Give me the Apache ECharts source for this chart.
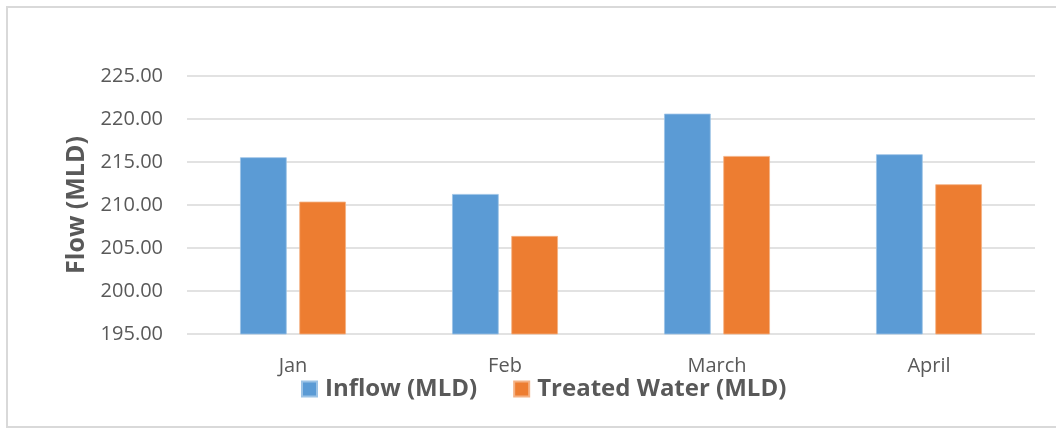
<!DOCTYPE html>
<html>
<head>
<meta charset="utf-8">
<script src="https://cdn.jsdelivr.net/npm/echarts@6/dist/echarts.min.js"></script>
<style>
  html, body { margin: 0; padding: 0; background: #ffffff; }
  #chart { width: 1056px; height: 428px; }
</style>
</head>
<body>
<div id="chart"></div>
<script>
// Monthly plant flows, million litres per day
const months = ['Jan', 'Feb', 'March', 'April'];
const inflow = [215.55, 211.28, 220.62, 215.90];
const treatedWater = [210.39, 206.40, 215.70, 212.41];
const seriesNames = ['Inflow (MLD)', 'Treated Water (MLD)'];
const axisTitle = 'Flow (MLD)';

const chart = echarts.init(document.getElementById('chart'), null, { renderer: 'canvas' });

const textColor = '#595959';
const font = '"Open Sans", "Liberation Sans", sans-serif';

chart.setOption({
  animation: false,
  backgroundColor: '#ffffff',
  graphic: [{
    type: 'rect',
    shape: { x: 7, y: 7, width: 1060, height: 420 },
    style: { fill: 'none', stroke: '#d9d9d9', lineWidth: 2 },
    silent: true
  }],
  grid: { left: 187, right: 21, top: 76, bottom: 94 },
  legend: {
    data: seriesNames,
    top: 372,
    left: 296,
    itemWidth: 15,
    itemHeight: 15,
    itemGap: 36,
    icon: 'rect',
    textStyle: {
      color: textColor, fontFamily: font, fontWeight: 'bold', fontSize: 24,
      padding: [0, 0, 0, 3]
    }
  },
  xAxis: {
    type: 'category',
    data: months,
    axisLine: { show: false },
    axisTick: { show: false },
    axisLabel: { color: textColor, fontFamily: font, fontSize: 20, margin: 22 }
  },
  yAxis: {
    type: 'value',
    min: 195,
    max: 225,
    interval: 5,
    name: axisTitle,
    nameLocation: 'middle',
    nameGap: 98,
    nameRotate: 90,
    nameTextStyle: { color: textColor, fontFamily: font, fontWeight: 'bold', fontSize: 25 },
    axisLine: { show: false },
    axisTick: { show: false },
    axisLabel: {
      color: textColor, fontFamily: font, fontSize: 20, margin: 24,
      formatter: v => v.toFixed(2)
    },
    splitLine: { lineStyle: { color: '#d9d9d9', width: 1.5 } }
  },
  series: [
    {
      name: seriesNames[0],
      type: 'bar',
      data: inflow,
      barWidth: '22%',
      barGap: '27%',
      itemStyle: { color: '#5b9bd5', borderColor: '#9cc3e6', borderWidth: 0.8 }
    },
    {
      name: seriesNames[1],
      type: 'bar',
      data: treatedWater,
      barWidth: '22%',
      barGap: '27%',
      itemStyle: { color: '#ed7d31', borderColor: '#f4b183', borderWidth: 0.8 }
    }
  ]
});
</script>
</body>
</html>
